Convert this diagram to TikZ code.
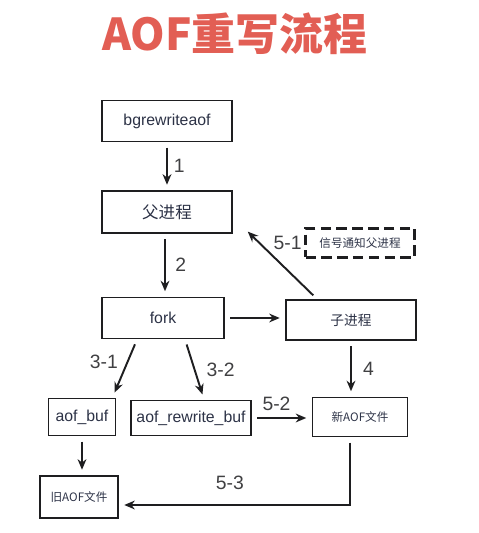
\documentclass[tikz,border=0pt]{standalone}
\usepackage{fontspec}
\setmainfont{Liberation Sans}
\newfontfamily\cjk{Noto Sans CJK SC}
\usetikzlibrary{arrows.meta, positioning}
\definecolor{titleRed} {RGB}{226, 94,  84}
\definecolor{inkDark}  {RGB}{ 30,  30,  32}
\definecolor{textNavy} {RGB}{ 44,  50,  70}
\tikzset{
  blk/.style    = {rectangle, draw=inkDark, line width=1.1pt, align=center,
                   inner sep=0pt, text=textNavy, font=\fontsize{9}{11}\selectfont},
  cnblk/.style  = {blk, font=\cjk\fontsize{#1}{11}\selectfont},
  dashblk/.style = {blk, line width=1.3pt, dash pattern=on 6pt off 3pt,
                    font=\cjk\fontsize{6.6}{8}\selectfont},
  arr/.style    = {-{Stealth[length=6pt, width=5pt]}, line width=1.1pt, color=inkDark,
                   shorten <=3pt, shorten >=3pt},
  lbl/.style    = {font=\fontsize{11}{13}\selectfont, text=inkDark!85},
}

\begin{document}
\begin{tikzpicture}
\useasboundingbox (0,0) rectangle (9.56,10.66);

% ---- Title ------------------------------------------------------------------
\node[font=\cjk\bfseries\fontsize{25}{30}\selectfont, text=titleRed] (title)
      at (4.70,9.98) {AOF重写流程};

% ---- Main chain -------------------------------------------------------------
\node[blk, minimum width=2.6cm, minimum height=0.82cm] (bgrw) at (3.34,8.24)
      {bgrewriteaof};
\node[cnblk=9.4, minimum width=2.6cm, minimum height=0.84cm] (parent) at (3.34,6.42)
      {父进程};
\node[blk, minimum width=2.44cm, minimum height=0.82cm] (fork) at (3.26,4.30)
      {fork};
\node[cnblk=7.8, minimum width=2.6cm, minimum height=0.80cm] (child) at (7.02,4.26)
      {子进程};
\node[dashblk, minimum width=2.18cm, minimum height=0.58cm] (signal) at (7.20,5.80)
      {信号通知父进程};

% ---- Buffers and files ------------------------------------------------------
\node[blk, minimum width=1.34cm, minimum height=0.74cm] (aofbuf) at (1.64,2.32)
      {aof\_buf};
\node[blk, minimum width=2.4cm, minimum height=0.70cm] (rwbuf) at (3.82,2.30)
      {aof\_rewrite\_buf};
\node[cnblk=6.6, minimum width=1.9cm, minimum height=0.78cm] (newaof) at (7.20,2.32)
      {新AOF文件};
\node[cnblk=6.6, minimum width=1.56cm, minimum height=0.84cm] (oldaof) at (1.58,0.72)
      {旧AOF文件};

% ---- Arrows -----------------------------------------------------------------
\draw[arr] (bgrw) -- node[right,lbl]{1} (parent);
\draw[arr] ([xshift=-0.04cm]parent.south) -- node[right,lbl,xshift=2pt]{2}
           ([xshift=-0.04cm]parent.south |- fork.north);
\draw[arr] ([xshift=0.64cm]child.north west) -- ([xshift=0.22cm,yshift=0.12cm]parent.south east);
\node[lbl, left=-2pt of signal] (l51) {5-1};
\draw[arr] (fork.east) -- (fork.east -| child.west);
\draw[arr] ([xshift=0.72cm]fork.south west) -- node[left,lbl,yshift=4pt]{3-1}
           ([xshift=-0.08cm]aofbuf.north east);
\draw[arr] ([xshift=1.68cm]fork.south west) -- node[right,lbl,xshift=3pt]{3-2}
           ([xshift=1.48cm]rwbuf.north west);
\draw[arr] (child.south) -- node[right,lbl,xshift=3pt]{4} (child.south |- newaof.north);
\draw[arr] (rwbuf.east) -- node[above,lbl,xshift=-3pt]{5-2} (rwbuf.east -| newaof.west);
\draw[arr] (aofbuf.south) -- (aofbuf.south |- oldaof.north);
\draw[arr] ([xshift=-0.2cm]newaof.south) |- node[pos=0.76,above=5pt,lbl]{5-3}
           ([yshift=-0.16cm]oldaof.east);

\end{tikzpicture}
\end{document}
